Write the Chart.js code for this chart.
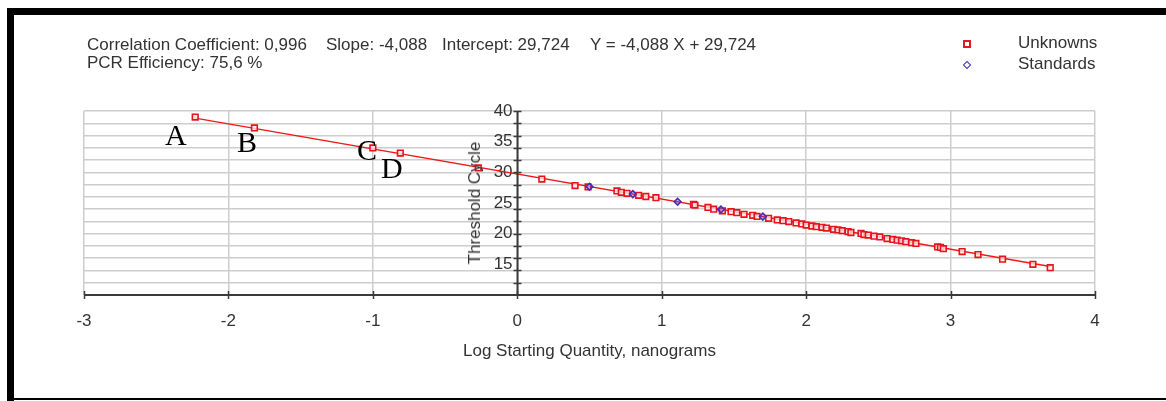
<!DOCTYPE html>
<html>
<head>
<meta charset="utf-8">
<script src="https://cdn.jsdelivr.net/npm/chart.js@4.4.1/dist/chart.umd.min.js"></script>
<style>
  html, body { margin:0; padding:0; background:#fff; }
  #wrap { position:relative; width:1166px; height:401px; overflow:hidden; background:#fff; }
  #chart { position:absolute; left:0; top:0; }
  .frame { position:absolute; background:#000; }
  .txt { position:absolute; font-family:"Liberation Sans", Arial, sans-serif; color:#333; white-space:pre; font-size:17px; line-height:20px; }
  .big { position:absolute; font-family:"Liberation Serif", "Times New Roman", serif; color:#000; font-size:30px; line-height:30px; }
  .mk { position:absolute; box-sizing:border-box; }
</style>
</head>
<body>
<div id="wrap">
  <canvas id="chart" width="1166" height="401"></canvas>
  <div class="frame" style="left:7px; top:8px; width:1159px; height:7px;"></div>
  <div class="frame" style="left:7px; top:8px; width:7px; height:393px;"></div>
  <div class="frame" style="left:7px; top:398px; width:1159px; height:2px;"></div>

  <div class="txt" style="left:87px; top:35px;">Correlation Coefficient: 0,996</div>
  <div class="txt" style="left:326px; top:35px;">Slope: -4,088</div>
  <div class="txt" style="left:442px; top:35px;">Intercept: 29,724</div>
  <div class="txt" style="left:590px; top:35px;">Y = -4,088 X + 29,724</div>
  <div class="txt" style="left:87px; top:53px;">PCR Efficiency: 75,6 %</div>

  <div class="mk" style="left:963px; top:40px; width:8px; height:8px; border:2px solid #e01a22;"></div>
  <div class="txt" style="left:1018px; top:33px;">Unknowns</div>
  <div class="mk" style="left:964px; top:62px; width:6px; height:6px; border:1.6px solid #3a2fc0; transform:rotate(45deg);"></div>
  <div class="txt" style="left:1018px; top:54px;">Standards</div>

  <div class="txt" style="left:475px; top:203px; transform:translate(-50%,-50%) rotate(-90deg);">Threshold Cycle</div>

  <div class="big" style="left:165px; top:120px;">A</div>
  <div class="big" style="left:237px; top:127px;">B</div>
  <div class="big" style="left:357px; top:135px;">C</div>
  <div class="big" style="left:381px; top:153px;">D</div>
</div>
<script>
// ---- data ----
const unknownX = [-2.23, -1.82, -1.00, -0.81, -0.27, 0.17, 0.40, 0.49, 0.69, 0.72, 0.76, 0.84, 0.89, 0.96,
  1.22, 1.23, 1.32, 1.36, 1.42, 1.48, 1.52, 1.57, 1.63, 1.66, 1.74, 1.80, 1.84, 1.88, 1.93, 1.97,
  2.00, 2.04, 2.07, 2.11, 2.14, 2.19, 2.22, 2.25, 2.29, 2.31, 2.38, 2.40, 2.43, 2.47, 2.51, 2.56,
  2.60, 2.63, 2.66, 2.69, 2.73, 2.76, 2.91, 2.93, 2.95, 3.08, 3.19, 3.36, 3.57, 3.69];
const unknownY = [39.02, 37.23, 33.97, 33.15, 30.71, 28.91, 27.85, 27.61, 26.96, 26.75, 26.58, 26.26, 26.06, 25.86,
  24.76, 24.67, 24.27, 23.99, 23.73, 23.58, 23.42, 23.16, 23.00, 22.80, 22.51, 22.23, 22.11, 21.98, 21.74, 21.58,
  21.41, 21.25, 21.14, 21.04, 20.92, 20.71, 20.60, 20.48, 20.35, 20.19, 20.03, 19.86, 19.78, 19.59, 19.46, 19.21,
  19.05, 18.94, 18.84, 18.69, 18.53, 18.40, 17.83, 17.75, 17.55, 17.09, 16.60, 15.84, 15.01, 14.45];
const standardX = [0.50, 0.80, 1.11, 1.41, 1.70];
const standardY = [27.66, 26.45, 25.20, 23.95, 22.78];
const fitX = [-2.23, 3.69];
const fitY = [38.84, 14.64];
const xTicks = [-3, -2, -1, 0, 1, 2, 3, 4];
const yLabelValues = [15, 20, 25, 30, 35, 40];
const yGridStep = 2;
const xTitle = 'Log Starting Quantity, nanograms';

const zip = (xs, ys) => xs.map((x, i) => ({x, y: ys[i]}));

const axisPlugin = {
  id: 'axisCross',
  afterDatasetsDraw(chart) {
    const {ctx, chartArea: a, scales: {x, y}} = chart;
    ctx.save();
    ctx.strokeStyle = '#3a3a3a';
    ctx.lineWidth = 2;
    ctx.beginPath(); ctx.moveTo(a.left, a.bottom); ctx.lineTo(a.right, a.bottom); ctx.stroke();
    ctx.lineWidth = 1.5;
    xTicks.forEach(v => {
      const px = Math.round(x.getPixelForValue(v)) + 0.5;
      ctx.beginPath(); ctx.moveTo(px, a.bottom - 4); ctx.lineTo(px, a.bottom + 4); ctx.stroke();
    });
    const x0 = Math.round(x.getPixelForValue(0)) + 0.5;
    ctx.lineWidth = 2;
    ctx.beginPath(); ctx.moveTo(x0, a.top); ctx.lineTo(x0, a.bottom); ctx.stroke();
    ctx.lineWidth = 1.5;
    for (let v = y.max; v > y.min; v -= yGridStep) {
      const py = Math.round(y.getPixelForValue(v)) + 0.5;
      ctx.beginPath(); ctx.moveTo(x0 - 4, py); ctx.lineTo(x0 + 4, py); ctx.stroke();
    }
    ctx.restore();
  }
};

Chart.defaults.font.family = '"Liberation Sans", Arial, sans-serif';
Chart.defaults.color = '#333';

new Chart(document.getElementById('chart'), {
  type: 'scatter',
  data: {
    datasets: [
      { label: 'Standards', data: zip(standardX, standardY), pointStyle: 'rectRot', pointRadius: 3.4,
        borderColor: '#4a2db8', backgroundColor: 'rgba(90,60,200,0.35)', borderWidth: 1.6, order: 1 },
      { label: 'Unknowns', data: zip(unknownX, unknownY), pointStyle: 'rect', pointRadius: 4,
        borderColor: '#e8141c', backgroundColor: 'rgba(255,235,235,0.8)', borderWidth: 1.6, order: 2 },
      { label: 'Fit', type: 'line', data: zip(fitX, fitY), borderColor: '#f01818', borderWidth: 1.4,
        pointRadius: 0, fill: false, order: 3 }
    ]
  },
  options: {
    responsive: false,
    animation: false,
    events: [],
    layout: { padding: { left: 84, right: 71, top: 111, bottom: 0 } },
    plugins: { legend: { display: false }, tooltip: { enabled: false } },
    scales: {
      x: {
        type: 'linear', min: -3, max: 4,
        afterBuildTicks: s => { s.ticks = xTicks.map(v => ({value: v})); },
        afterFit: s => { s.height = 106; },
        ticks: { padding: 16, font: { size: 17 }, color: '#333' },
        grid: { color: '#cdcdcd', lineWidth: 1.5, drawTicks: false },
        border: { display: false },
        title: { display: true, text: xTitle, font: { size: 17 }, color: '#333', padding: { top: 4, bottom: 39 } }
      },
      y: {
        type: 'linear', min: 10, max: 40, position: { x: 0 },
        ticks: { stepSize: 1, autoSkip: false, font: { size: 17 }, color: '#333',
          callback: v => yLabelValues.includes(v) ? String(v) + ' ' : '' },
        grid: { color: c => (c.tick && c.tick.value % yGridStep === 0) ? '#cdcdcd' : 'rgba(0,0,0,0)', lineWidth: 1.5, drawTicks: false },
        border: { display: false }
      }
    }
  },
  plugins: [axisPlugin]
});
</script>
</body>
</html>
